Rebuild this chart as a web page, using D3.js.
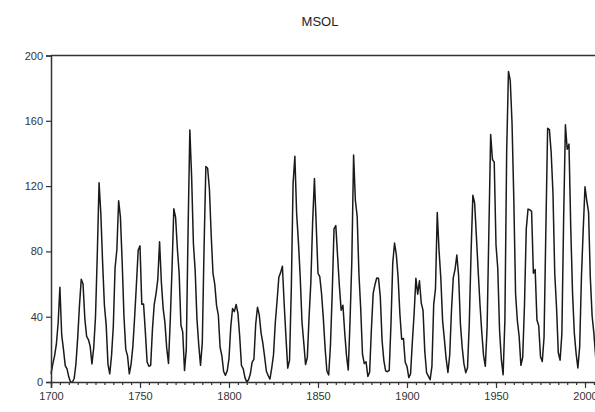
<!DOCTYPE html>
<html><head><meta charset="utf-8">
<script src="https://cdn.jsdelivr.net/npm/d3@7"></script>
<style>body{margin:0;background:#fff}svg{display:block}</style>
</head><body><svg id="c" width="595" height="412"></svg>
<script>
const title = "MSOL";
const startYear = 1700;
const sunspots = [
5,11,16,23,36,58,29,20,10,8,
3,0,0,2,11,27,47,63,60,39,
28,26,22,11,21,40,78,122,103,73,
47,35,11,5,16,34,70,81,111,101,
73,40,20,16,5,11,22,40,60,80.9,
83.4,47.7,47.8,30.7,12.2,9.6,10.2,32.4,47.6,54,
62.9,85.9,61.2,45.1,36.4,20.9,11.4,37.8,69.8,106.1,
100.8,81.6,66.5,34.8,30.6,7,19.8,92.5,154.4,125.9,
84.8,68.1,38.5,22.8,10.2,24.1,82.9,132,130.9,118.1,
89.9,66.6,60,46.9,41,21.3,16,6.4,4.1,6.8,
14.5,34,45,43.1,47.5,42.2,28.1,10.1,8.1,2.5,
0,1.4,5,12.2,13.9,35.4,45.8,41.1,30.1,23.9,
15.6,6.6,4,1.8,8.5,16.6,36.3,49.6,64.2,67,
70.9,47.8,27.5,8.5,13.2,56.9,121.5,138.3,103.2,85.7,
64.6,36.7,24.2,10.7,15,40.1,61.5,98.5,124.7,96.3,
66.6,64.5,54.1,39,20.6,6.7,4.3,22.7,54.8,93.8,
95.8,77.2,59.1,44,47,30.5,16.3,7.3,37.6,74,
139,111.2,101.6,66.2,44.7,17,11.3,12.4,3.4,6,
32.3,54.3,59.7,63.7,63.5,52.2,25.4,13.1,6.8,6.3,
7.1,35.6,73,85.1,78,64,41.8,26.2,26.7,12.1,
9.5,2.7,5,24.4,42,63.5,53.8,62,48.5,43.9,
18.6,5.7,3.6,1.4,9.6,47.4,57.1,103.9,80.6,63.6,
37.6,26.1,14.2,5.8,16.7,44.3,63.9,69,77.8,64.9,
35.7,21.2,11.1,5.7,8.7,36.1,79.7,114.4,109.6,88.8,
67.8,47.5,30.6,16.3,9.6,33.2,92.6,151.6,136.3,134.7,
83.9,69.4,31.5,13.9,4.4,38,141.7,190.2,184.8,159,
112.3,53.9,37.5,27.9,10.2,15.1,47,93.8,105.9,105.5,
104.5,66.6,68.9,38,34.5,15.5,12.6,27.5,92.5,155.4,
154.6,140.4,115.9,66.6,45.9,17.9,13.4,29.4,100.2,157.6,
142.6,145.7,94.3,54.6,29.9,17.5,8.6,21.5,64.3,93.3,
119.6,111,104,63.7,40.4,29.8,15.2,7.5,2.9
];
const years = sunspots.map((v,i)=>startYear+i);
const xTicks = [1700,1750,1800,1850,1900,1950,2000];
const yTicks = [0,40,80,120,160,200];

const svg = d3.select("#c");
const mLeft = 51, mTop = 55.5, mBottom = 382;
const x = d3.scaleLinear().domain([1700,2010]).range([mLeft, mLeft + 1.78*310]);
const y = d3.scaleLinear().domain([0,200]).range([mBottom, mTop]);

svg.append("text").attr("x",320).attr("y",26).attr("text-anchor","middle")
  .attr("font-family","Liberation Sans, Arial, sans-serif").attr("font-size",13).attr("fill","#222").text(title);

const line = d3.line().x((d,i)=>x(years[i])).y(d=>y(d));
svg.append("path").datum(sunspots).attr("d",line).attr("fill","none")
  .attr("stroke","#1a1a1a").attr("stroke-width",1.5).attr("stroke-linejoin","round");

svg.append("line").attr("x1",mLeft).attr("x2",600).attr("y1",mTop).attr("y2",mTop)
  .attr("stroke","#333").attr("stroke-width",1.5);

const yAxis = svg.append("g").attr("transform",`translate(${mLeft},0)`)
  .call(d3.axisLeft(y).tickValues(yTicks).tickSize(5).tickPadding(3));
yAxis.select(".domain").attr("stroke","#333").attr("stroke-width",1.5);
yAxis.selectAll(".tick line").attr("stroke","#333").attr("stroke-width",1.2);
yAxis.selectAll("text").attr("font-family","Liberation Sans, Arial, sans-serif").attr("font-size",11).attr("fill","#333");

const minor = d3.range(1700,2011,5);
const xMinor = svg.append("g").attr("transform",`translate(0,${mBottom})`)
  .call(d3.axisBottom(x).tickValues(minor).tickSize(3).tickFormat(""));
xMinor.select(".domain").remove();
xMinor.selectAll(".tick line").attr("stroke","#333").attr("stroke-width",1.2);

const xAxis = svg.append("g").attr("transform",`translate(0,${mBottom})`)
  .call(d3.axisBottom(x).tickValues(xTicks).tickSize(6).tickPadding(4).tickFormat(d3.format("d")));
xAxis.select(".domain").attr("stroke","#333").attr("stroke-width",1.5);
xAxis.selectAll(".tick line").attr("stroke","#333").attr("stroke-width",1.2);
xAxis.selectAll("text").attr("font-family","Liberation Sans, Arial, sans-serif").attr("font-size",11).attr("fill","#333");
</script></body></html>
